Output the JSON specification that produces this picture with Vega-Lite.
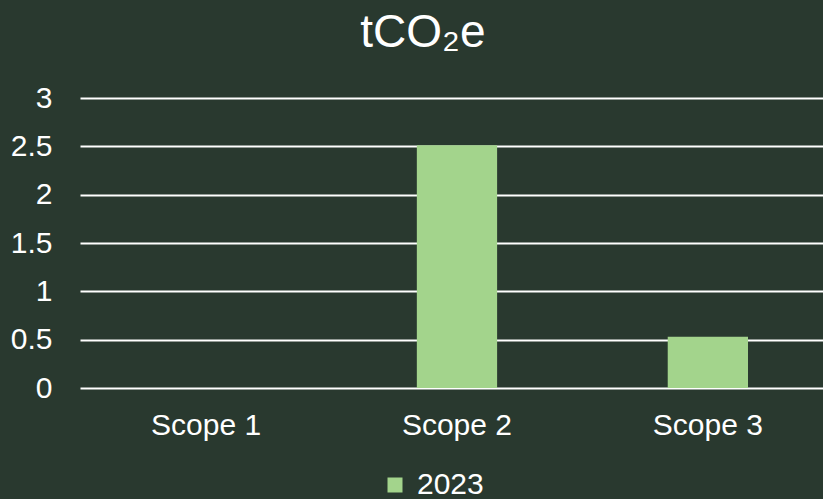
{
  "$schema": "https://vega.github.io/schema/vega-lite/v6.json",
  "width": 743,
  "height": 290,
  "autosize": {"type": "none"},
  "padding": {"left": 80, "top": 98, "right": 0, "bottom": 111},
  "background": "#29392f",
  "title": {
    "text": "tCO₂e",
    "font": "Liberation Sans",
    "fontSize": 46,
    "fontWeight": "normal",
    "color": "#ffffff",
    "anchor": "start",
    "dx": 350,
    "offset": 26
  },
  "data": {
    "values": [
      {"scope": "Scope 1", "year": "2023", "value": 0},
      {"scope": "Scope 2", "year": "2023", "value": 2.51},
      {"scope": "Scope 3", "year": "2023", "value": 0.53}
    ]
  },
  "mark": {"type": "bar"},
  "encoding": {
    "x": {
      "field": "scope",
      "type": "nominal",
      "scale": {"paddingInner": 0.68, "paddingOuter": 0.3207, "align": 0.534},
      "axis": {
        "title": null,
        "labelAngle": 0,
        "labelFont": "Liberation Sans",
        "labelFontSize": 30,
        "labelColor": "#ffffff",
        "labelPadding": 22,
        "ticks": false,
        "domain": false,
        "grid": false
      }
    },
    "y": {
      "field": "value",
      "type": "quantitative",
      "scale": {"domain": [0, 3]},
      "axis": {
        "title": null,
        "values": [0, 0.5, 1, 1.5, 2, 2.5, 3],
        "format": "~g",
        "labelFont": "Liberation Sans",
        "labelFontSize": 30,
        "labelColor": "#ffffff",
        "labelPadding": 28,
        "ticks": false,
        "domain": false,
        "grid": true,
        "gridColor": "#ffffff",
        "gridWidth": 2,
        "gridOpacity": 1
      }
    },
    "color": {
      "field": "year",
      "type": "nominal",
      "scale": {"range": ["#a3d48c"]},
      "legend": {
        "title": null,
        "orient": "none",
        "legendX": 300,
        "legendY": 372,
        "symbolType": "square",
        "symbolSize": 225,
        "symbolOpacity": 1,
        "symbolStrokeWidth": 0,
        "labelFont": "Liberation Sans",
        "labelFontSize": 30,
        "labelColor": "#ffffff",
        "labelOffset": 7
      }
    }
  },
  "config": {
    "view": {"stroke": null},
    "axis": {"gridCap": "butt"}
  }
}
